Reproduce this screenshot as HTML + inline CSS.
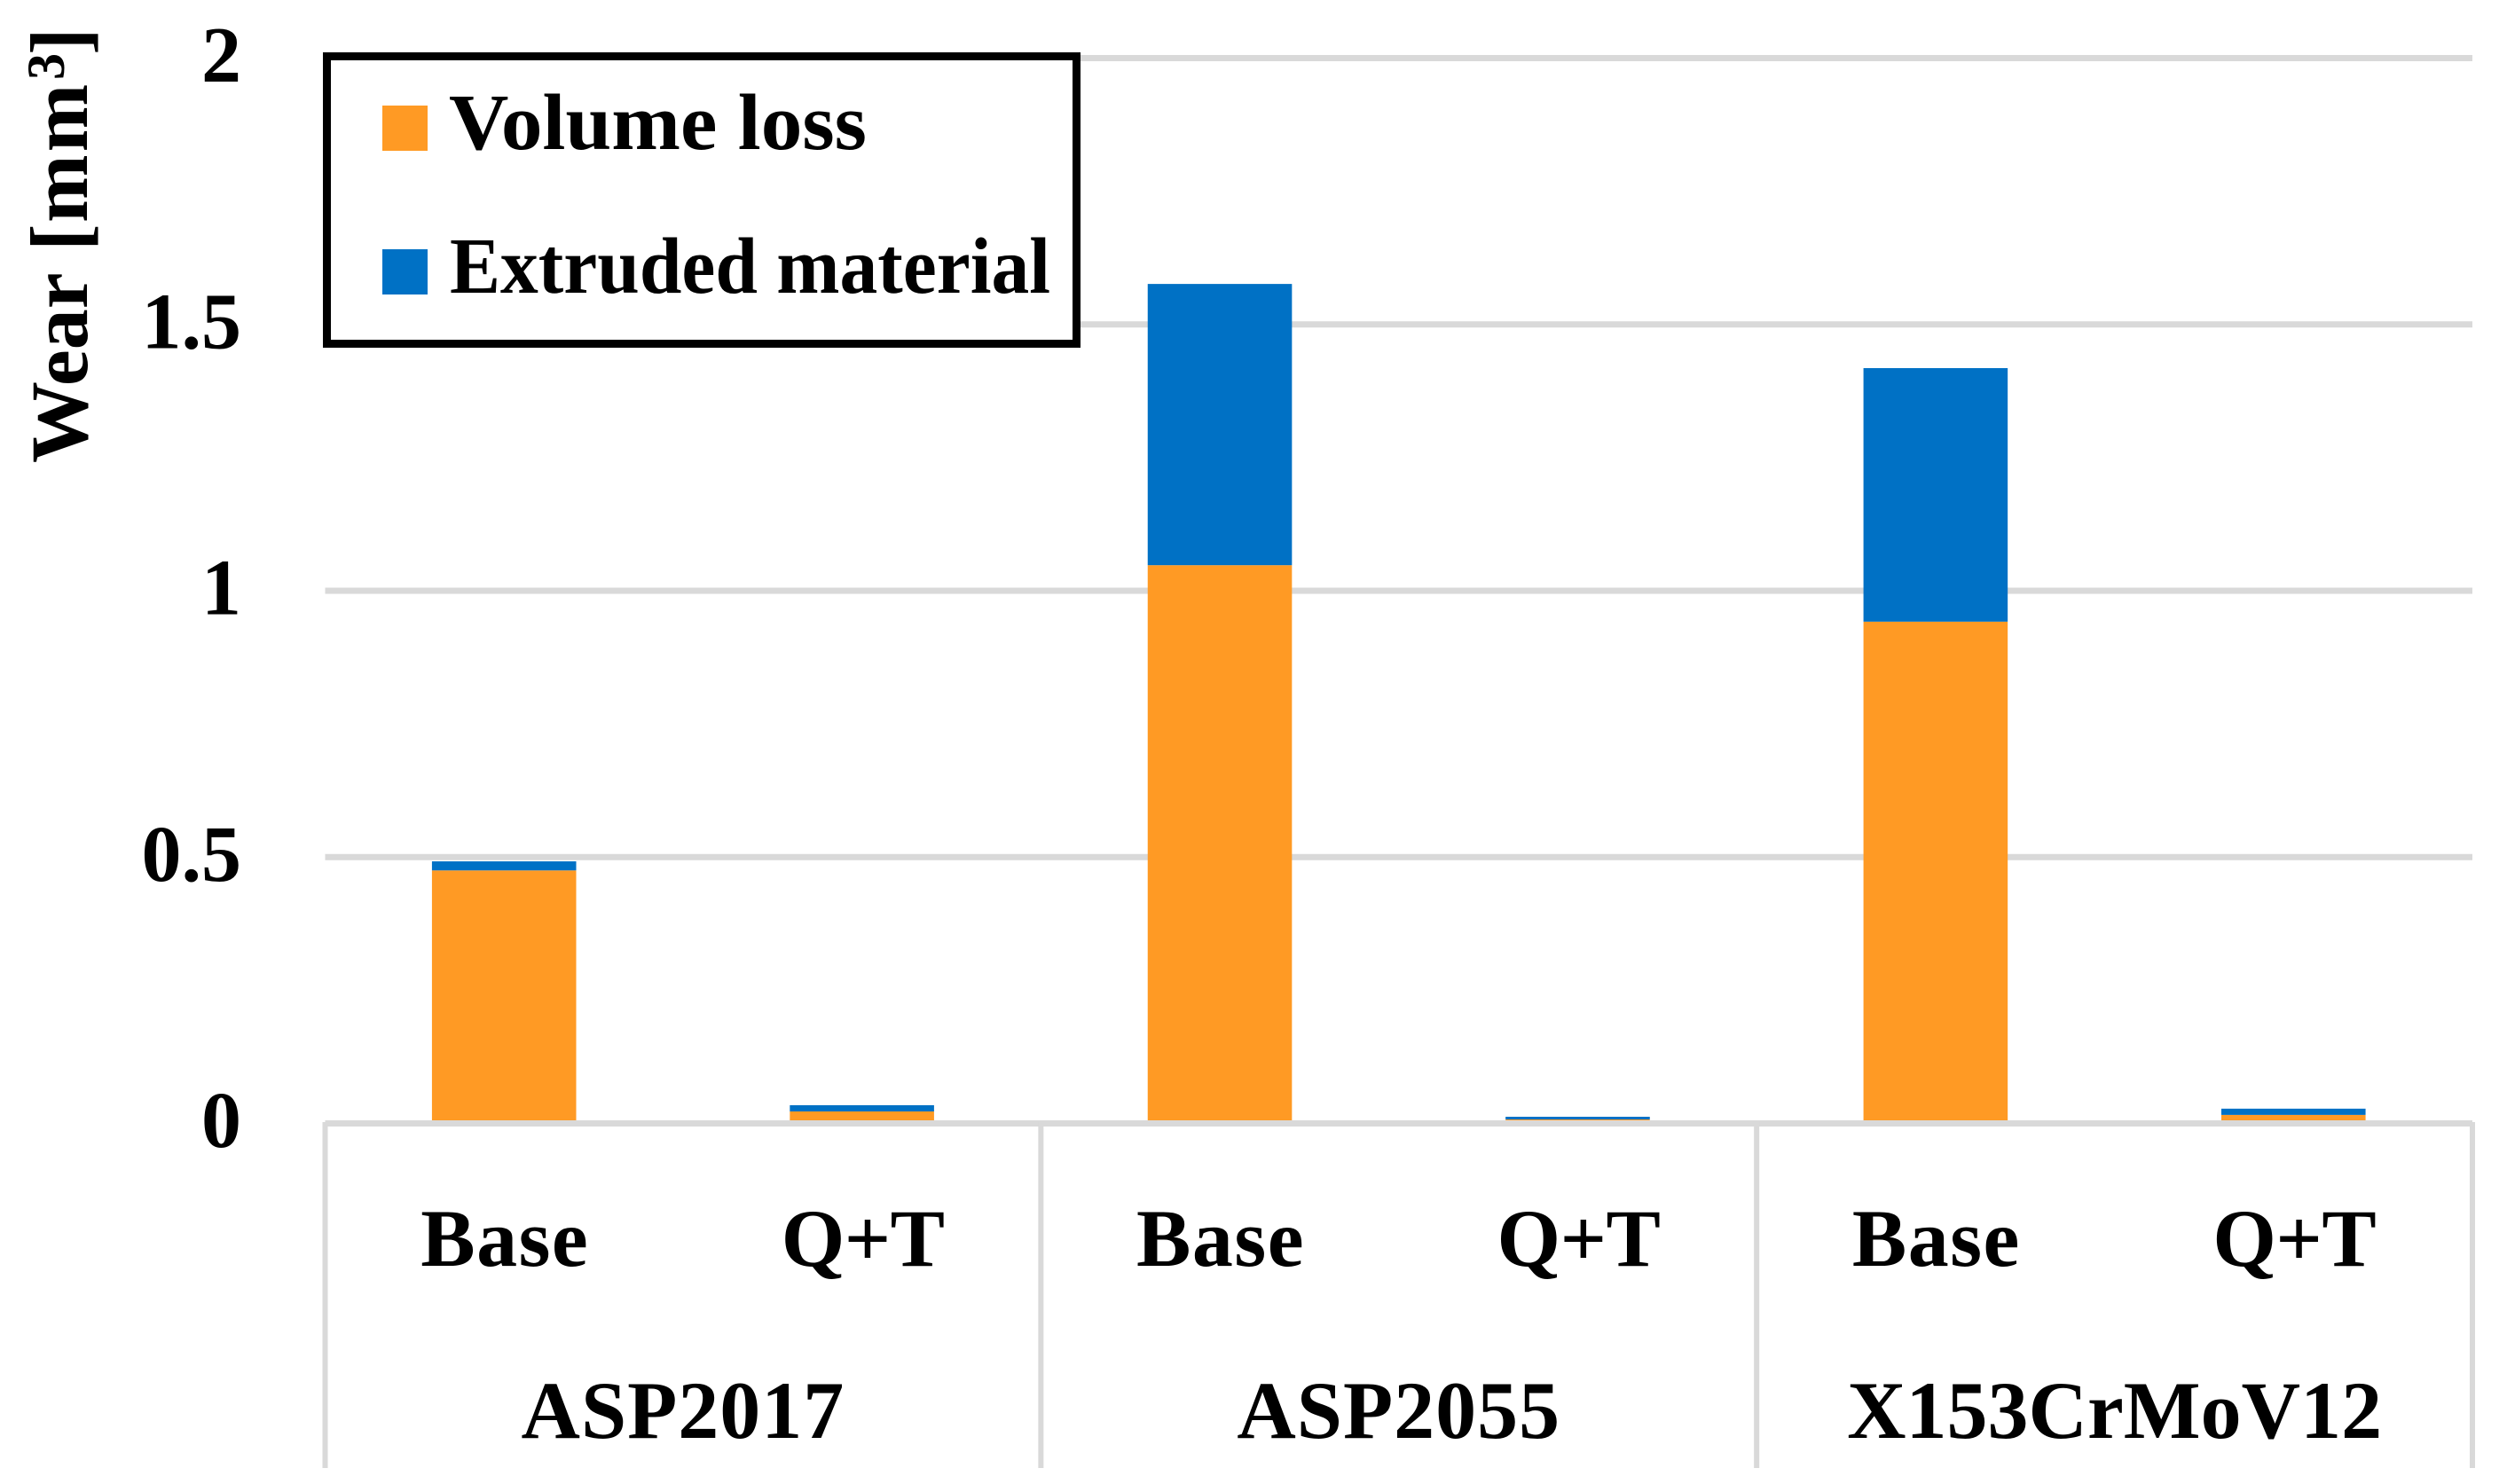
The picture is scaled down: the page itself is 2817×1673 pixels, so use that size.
<!DOCTYPE html>
<html lang="en">
<head>
<meta charset="utf-8">
<title>Wear chart</title>
<style>
  html, body { margin: 0; padding: 0; background: #fff; }
  svg { display: block; }
  text { font-family: "Liberation Serif", serif; font-weight: bold; fill: #000; }
</style>
</head>
<body>
<svg id="chart" xmlns="http://www.w3.org/2000/svg" width="2817" height="1673" viewBox="0 0 2817 1673">
  <rect x="0" y="0" width="2817" height="1673" fill="#fff"/>
  <g id="grid"></g>
  <g id="bars"></g>
  <g id="axis"></g>
  <g id="ticks"></g>
  <text transform="translate(98,522) rotate(-90)" font-size="92">Wear <tspan x="239">[</tspan><tspan x="271" letter-spacing="3">mm</tspan><tspan x="432" dy="-26" font-size="60">3</tspan><tspan x="460" dy="26">]</tspan></text>
  <g>
    <rect x="368.5" y="63.5" width="845" height="324" fill="#fff" stroke="#000" stroke-width="9"/>
    <rect x="431" y="119" width="51" height="51" fill="#ff9a24"/>
    <text x="506" y="168" font-size="90" textLength="471" lengthAdjust="spacingAndGlyphs">Volume loss</text>
    <rect x="431" y="281" width="51" height="51" fill="#0071c5"/>
    <text x="507" y="330" font-size="90" textLength="677" lengthAdjust="spacingAndGlyphs">Extruded material</text>
  </g>
</svg>
<script>
const materials = ["ASP2017", "ASP2055", "X153CrMoV12"];
const treatments = ["Base", "Q+T", "Base", "Q+T", "Base", "Q+T"];
const volumeLoss = [0.475, 0.0225, 1.048, 0.0075, 0.942, 0.016];
const extrudedMaterial = [0.017, 0.0117, 0.528, 0.005, 0.476, 0.0117];
const tickValues = [0, 0.5, 1, 1.5, 2];
const tickLabels = ["0", "0.5", "1", "1.5", "2"];

const NS = "http://www.w3.org/2000/svg";
const plotLeft = 366.5, plotRight = 2787, zeroY = 1266.5, unitPx = 600.5;
const step = (plotRight - plotLeft) / treatments.length;
const barWidth = step * 0.403;
const yScale = function (v) { return zeroY - v * unitPx; };
const xCenter = function (i) { return plotLeft + (i + 0.5) * step; };

function make(tag, parent, props) {
  const el = document.createElementNS(NS, tag);
  for (const k in props) el.setAttribute(k, props[k]);
  document.getElementById(parent).appendChild(el);
  return el;
}

tickValues.forEach(function (v, i) {
  if (v !== 0) {
    const line = make("rect", "grid", { x: plotLeft, y: yScale(v) - 3.5, width: plotRight - plotLeft, height: 7, fill: "#d9d9d9" });
    
    
  }
  const label = make("text", "ticks", { x: 272, y: yScale(v) + 26.5, "text-anchor": "end", "font-size": 90 });
  label.textContent = tickLabels[i];
  
  
});

treatments.forEach(function (name, i) {
  const x = xCenter(i) - barWidth / 2;
  const v1 = volumeLoss[i], v2 = extrudedMaterial[i];
  const orange = make("rect", "bars", { x: x, y: yScale(v1), width: barWidth, height: yScale(0) - yScale(v1), fill: "#ff9a24" });
  
  
  const blue = make("rect", "bars", { x: x, y: yScale(v1 + v2), width: barWidth, height: yScale(v1) - yScale(v1 + v2), fill: "#0071c5" });
  
  
  const label = make("text", "axis", { x: xCenter(i) + 1, y: 1427, "text-anchor": "middle", "font-size": 92, "letter-spacing": name === "Base" ? 1.5 : -0.5 });
  label.textContent = name;
  
  
});

const baseline = make("rect", "axis", { x: plotLeft, y: zeroY - 3.5, width: plotRight - plotLeft, height: 7, fill: "#d9d9d9" });



for (let g = 0; g <= materials.length; g++) {
  const dx = plotLeft + g * 2 * step;
  const divider = make("rect", "axis", { x: dx - 3, y: 1265, width: 6, height: 390, fill: "#d9d9d9" });
  
  
}

materials.forEach(function (name, g) {
  const label = make("text", "axis", { x: plotLeft + (g + 0.5) * 2 * step, y: 1621, "text-anchor": "middle", "font-size": 92, "letter-spacing": name.length < 8 ? 1 : 0 });
  label.textContent = name;
  
  
});
</script>
</body>
</html>
